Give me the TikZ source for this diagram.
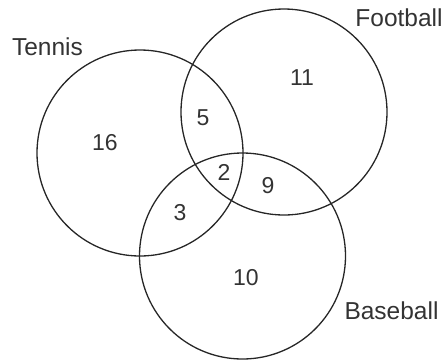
\documentclass[tikz,border=0pt]{standalone}
\usepackage{fontspec}
\setmainfont{Liberation Sans}
\usetikzlibrary{positioning}

\begin{document}
\begin{tikzpicture}[
    x=1pt, y=-1pt,
    every node/.style={font=\fontsize{23}{27}\selectfont, text=black!80},
    sportset/.style={draw=black!85, line width=1.3pt, circle, minimum size=206pt, inner sep=0pt},
    setname/.style={inner sep=0pt, anchor=base, font=\fontsize{24.5}{28}\selectfont},
    count/.style={inner sep=0pt}
]
\useasboundingbox (0,0) rectangle (445,360);
\node[sportset] (tennis) at (140,153) {};
\node[sportset] (football) at (284,112) {};
\node[sportset] (baseball) at (242.5,256) {};
% set names
\node[setname] (tennisname) at (47.5,55) {Tennis};
\node[setname] (footballname) at (399,26) {Football};
\node[setname] (baseballname) at (391.5,319) {Baseball};
% region counts
\node[count] (onlyT) at (105,143) {16};
\node[count] (onlyF) at (302,78) {11};
\node[count] (TF) at (203,118) {5};
\node[count] (TFB) at (224,172) {2};
\node[count] (FB) at (268,186) {9};
\node[count] (TB) at (180,213) {3};
\node[count] (onlyB) at (246,278) {10};
\end{tikzpicture}
\end{document}
